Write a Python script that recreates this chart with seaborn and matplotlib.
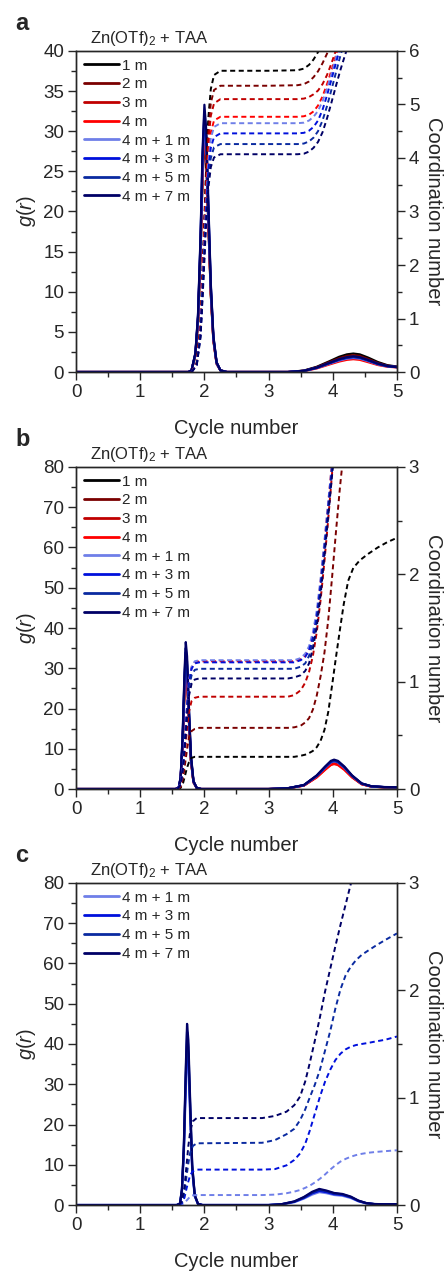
import matplotlib
matplotlib.use("Agg")
import matplotlib.pyplot as plt
import seaborn as sns

# ---------------- data ----------------
SERIES_AB = ["1 m", "2 m", "3 m", "4 m", "4 m + 1 m", "4 m + 3 m", "4 m + 5 m", "4 m + 7 m"]
SERIES_C = ["4 m + 1 m", "4 m + 3 m", "4 m + 5 m", "4 m + 7 m"]

# panel a : g(r)
A_GR_X = [0.00, 1.75, 1.80, 1.86, 1.90, 1.94, 1.97, 2.00, 2.03, 2.06, 2.10, 2.14, 2.19, 2.25, 2.35,
          3.30, 3.55, 3.75, 3.95, 4.10, 4.22, 4.32, 4.42, 4.55, 4.70, 4.85, 5.00]
A_GR_1M = [0, 0, 0.2, 2.1, 6.3, 15.0, 24.2, 29.5, 26.6, 19.0, 9.7, 4.0, 1.1, 0.2, 0,
           0, 0.18, 0.65, 1.35, 1.9, 2.2, 2.3, 2.2, 1.8, 1.25, 0.85, 0.68]
A_GR_2M = [0, 0, 0.2, 2.1, 6.2, 14.8, 23.8, 29.0, 26.1, 18.7, 9.6, 3.9, 1.0, 0.2, 0,
           0, 0.16, 0.6, 1.25, 1.72, 2.0, 2.1, 2.0, 1.62, 1.13, 0.8, 0.65]
A_GR_3M = [0, 0, 0.2, 2.2, 6.4, 15.3, 24.6, 30.0, 27.0, 19.4, 9.9, 4.1, 1.1, 0.2, 0,
           0, 0.14, 0.5, 1.03, 1.43, 1.66, 1.75, 1.66, 1.35, 0.95, 0.7, 0.6]
A_GR_4M = [0, 0, 0.2, 2.2, 6.5, 15.6, 25.0, 30.5, 27.5, 19.7, 10.1, 4.1, 1.1, 0.2, 0,
           0, 0.12, 0.45, 0.95, 1.31, 1.52, 1.6, 1.52, 1.23, 0.88, 0.66, 0.58]
A_GR_4M1 = [0, 0, 0.2, 2.2, 6.6, 15.8, 25.4, 31.0, 27.9, 20.0, 10.2, 4.2, 1.1, 0.2, 0,
            0, 0.13, 0.5, 1.04, 1.44, 1.67, 1.75, 1.67, 1.36, 0.96, 0.7, 0.6]
A_GR_4M3 = [0, 0, 0.2, 2.3, 6.8, 16.3, 26.2, 32.0, 28.8, 20.6, 10.6, 4.3, 1.2, 0.2, 0,
            0, 0.14, 0.52, 1.1, 1.52, 1.76, 1.85, 1.76, 1.43, 1.0, 0.73, 0.61]
A_GR_4M5 = [0, 0, 0.2, 2.3, 6.9, 16.6, 26.7, 32.5, 29.3, 21.0, 10.7, 4.4, 1.2, 0.2, 0,
            0, 0.15, 0.54, 1.12, 1.56, 1.8, 1.9, 1.8, 1.46, 1.02, 0.74, 0.62]
A_GR_4M7 = [0, 0, 0.2, 2.4, 7.1, 17.0, 27.3, 33.3, 30.0, 21.5, 11.0, 4.5, 1.2, 0.2, 0,
            0, 0.15, 0.55, 1.15, 1.6, 1.85, 1.95, 1.85, 1.5, 1.05, 0.75, 0.62]

# panel a : coordination number
A_CN_X = [1.80, 1.88, 1.94, 1.98, 2.02, 2.06, 2.10, 2.15, 2.25, 3.00, 3.45,
          3.55, 3.63, 3.70, 3.77, 3.84, 3.91, 3.98, 4.05, 4.12, 4.19, 4.26, 4.33]
A_CN_1M = [0, 0.17, 0.90, 2.20, 3.60, 4.73, 5.29, 5.55, 5.63, 5.63, 5.64,
           5.67, 5.74, 5.84, 5.98, 6.15, 6.35, 6.6, 6.8, 7.0, 7.2, 7.4, 7.6]
A_CN_2M = [0, 0.16, 0.86, 2.09, 3.42, 4.49, 5.03, 5.27, 5.35, 5.35, 5.36,
           5.38, 5.43, 5.51, 5.62, 5.77, 5.95, 6.15, 6.35, 6.55, 6.75, 6.95, 7.15]
A_CN_3M = [0, 0.15, 0.82, 1.99, 3.26, 4.28, 4.79, 5.02, 5.10, 5.10, 5.10,
           5.11, 5.14, 5.19, 5.26, 5.38, 5.55, 5.77, 6.02, 6.25, 6.5, 6.7, 6.9]
A_CN_4M = [0, 0.14, 0.76, 1.86, 3.05, 4.01, 4.48, 4.70, 4.77, 4.77, 4.77,
           4.78, 4.81, 4.87, 4.98, 5.15, 5.38, 5.64, 5.92, 6.2, 6.45, 6.7, 6.9]
A_CN_4M1 = [0, 0.14, 0.74, 1.81, 2.98, 3.91, 4.37, 4.58, 4.65, 4.65, 4.65,
            4.66, 4.70, 4.77, 4.88, 5.06, 5.30, 5.58, 5.88, 6.15, 6.4, 6.6, 6.8]
A_CN_4M3 = [0, 0.13, 0.71, 1.74, 2.85, 3.75, 4.19, 4.39, 4.46, 4.46, 4.46,
            4.47, 4.51, 4.58, 4.70, 4.90, 5.17, 5.47, 5.78, 6.08, 6.35, 6.6, 6.8]
A_CN_4M5 = [0, 0.13, 0.68, 1.66, 2.73, 3.58, 4.00, 4.20, 4.26, 4.26, 4.26,
            4.27, 4.31, 4.38, 4.50, 4.70, 4.97, 5.28, 5.60, 5.92, 6.2, 6.45, 6.65]
A_CN_4M7 = [0, 0.12, 0.65, 1.59, 2.60, 3.42, 3.83, 4.01, 4.07, 4.07, 4.07,
            4.08, 4.12, 4.19, 4.30, 4.48, 4.74, 5.04, 5.35, 5.65, 5.92, 6.18, 6.4]

# panel b : g(r)
B_GR_X = [0.00, 1.55, 1.60, 1.63, 1.66, 1.69, 1.71, 1.73, 1.76, 1.79, 1.83, 1.88, 1.95,
          3.00, 3.30, 3.55, 3.75, 3.88, 3.97, 4.02, 4.08, 4.18, 4.30, 4.45, 4.60, 4.80, 5.00]
B_GR_1M = [0, 0, 0.25, 2.5, 11.0, 24.6, 31.0, 28.0, 17.0, 7.2, 1.7, 0.25, 0,
           0, 0.19, 0.93, 3.17, 5.22, 6.52, 6.8, 6.52, 5.22, 3.17, 1.3, 0.65, 0.46, 0.42]
B_GR_2M = [0, 0, 0.25, 2.5, 10.7, 23.9, 30.0, 27.1, 16.4, 7.0, 1.65, 0.25, 0,
           0, 0.18, 0.89, 3.03, 4.99, 6.23, 6.5, 6.23, 4.99, 3.03, 1.25, 0.62, 0.44, 0.4]
B_GR_3M = [0, 0, 0.26, 2.6, 11.2, 25.0, 31.5, 28.5, 17.3, 7.3, 1.7, 0.26, 0,
           0, 0.17, 0.88, 2.98, 4.91, 6.14, 6.4, 6.14, 4.91, 2.98, 1.23, 0.61, 0.44, 0.4]
B_GR_4M = [0, 0, 0.26, 2.6, 11.4, 25.4, 32.0, 28.9, 17.5, 7.5, 1.75, 0.26, 0,
           0, 0.17, 0.85, 2.89, 4.76, 5.95, 6.2, 5.95, 4.76, 2.89, 1.19, 0.6, 0.42, 0.38]
B_GR_4M1 = [0, 0, 0.27, 2.7, 11.7, 26.2, 33.0, 29.8, 18.1, 7.7, 1.8, 0.27, 0,
            0, 0.19, 0.95, 3.22, 5.29, 6.62, 6.9, 6.62, 5.29, 3.22, 1.32, 0.66, 0.47, 0.43]
B_GR_4M3 = [0, 0, 0.28, 2.8, 12.1, 27.0, 34.0, 30.7, 18.6, 7.9, 1.9, 0.28, 0,
            0, 0.19, 0.96, 3.26, 5.37, 6.71, 7.0, 6.71, 5.37, 3.26, 1.34, 0.67, 0.48, 0.43]
B_GR_4M5 = [0, 0, 0.29, 2.9, 12.5, 27.8, 35.0, 31.6, 19.2, 8.2, 1.9, 0.29, 0,
            0, 0.19, 0.97, 3.31, 5.45, 6.81, 7.1, 6.81, 5.45, 3.31, 1.36, 0.68, 0.48, 0.44]
B_GR_4M7 = [0, 0, 0.3, 3.0, 13.0, 29.0, 36.5, 33.0, 20.0, 8.5, 2.0, 0.3, 0,
            0, 0.2, 1.0, 3.4, 5.6, 7.0, 7.3, 7.0, 5.6, 3.4, 1.4, 0.7, 0.5, 0.45]

# panel b : coordination number
B_CN_X = [1.58, 1.63, 1.67, 1.70, 1.73, 1.76, 1.80, 1.85, 1.92,
          3.30, 3.40, 3.50, 3.57, 3.63, 3.69, 3.75, 3.81, 3.87, 3.93, 3.99, 4.05,
          4.11, 4.17, 4.24, 4.32, 4.42, 4.55, 4.70, 4.85, 5.00]
B_CN_1M = [0, 0.01, 0.06, 0.13, 0.20, 0.25, 0.29, 0.30, 0.30,
           0.30, 0.30, 0.31, 0.32, 0.335, 0.355, 0.39, 0.45, 0.55, 0.72, 0.97, 1.23,
           1.48, 1.72, 1.94, 2.06, 2.13, 2.19, 2.25, 2.30, 2.34]
B_CN_2M = [0, 0.02, 0.11, 0.24, 0.37, 0.48, 0.54, 0.56, 0.57,
           0.57, 0.575, 0.59, 0.62, 0.66, 0.74, 0.87, 1.05, 1.27, 1.58, 1.98, 2.40,
           2.80, 3.15, 3.5, 3.8, 4.1, 4.4, 4.7, 5.0, 5.2]
B_CN_3M = [0, 0.03, 0.17, 0.36, 0.56, 0.72, 0.82, 0.85, 0.86,
           0.86, 0.875, 0.92, 0.99, 1.09, 1.24, 1.46, 1.76, 2.12, 2.52, 2.95, 3.35,
           3.7, 4.0, 4.3, 4.6, 4.9, 5.2, 5.5, 5.8, 6.0]
B_CN_4M = [0, 0.05, 0.24, 0.50, 0.77, 1.00, 1.13, 1.18, 1.19,
           1.19, 1.19, 1.21, 1.24, 1.30, 1.42, 1.62, 1.93, 2.29, 2.67, 3.05, 3.4,
           3.7, 4.0, 4.3, 4.6, 4.9, 5.2, 5.5, 5.8, 6.0]
B_CN_4M1 = [0, 0.05, 0.24, 0.50, 0.78, 1.01, 1.14, 1.19, 1.20,
            1.20, 1.20, 1.22, 1.26, 1.33, 1.46, 1.66, 1.96, 2.31, 2.68, 3.05, 3.4,
            3.7, 4.0, 4.3, 4.6, 4.9, 5.2, 5.5, 5.8, 6.0]
B_CN_4M3 = [0, 0.05, 0.24, 0.50, 0.77, 0.99, 1.12, 1.17, 1.18,
            1.18, 1.18, 1.20, 1.23, 1.29, 1.41, 1.60, 1.90, 2.25, 2.63, 3.01, 3.38,
            3.7, 4.0, 4.3, 4.6, 4.9, 5.2, 5.5, 5.8, 6.0]
B_CN_4M5 = [0, 0.04, 0.22, 0.47, 0.73, 0.94, 1.06, 1.11, 1.12,
            1.12, 1.12, 1.14, 1.17, 1.24, 1.37, 1.56, 1.86, 2.21, 2.59, 2.97, 3.34,
            3.7, 4.0, 4.3, 4.6, 4.9, 5.2, 5.5, 5.8, 6.0]
B_CN_4M7 = [0, 0.04, 0.21, 0.43, 0.67, 0.87, 0.98, 1.02, 1.03,
            1.03, 1.04, 1.06, 1.10, 1.17, 1.31, 1.51, 1.81, 2.17, 2.55, 2.93, 3.3,
            3.7, 4.0, 4.3, 4.6, 4.9, 5.2, 5.5, 5.8, 6.0]

# panel c : g(r)
C_GR_X = [0.00, 1.57, 1.62, 1.65, 1.68, 1.71, 1.73, 1.75, 1.78, 1.81, 1.85, 1.90, 1.97,
          3.00, 3.20, 3.40, 3.55, 3.68, 3.79, 3.90, 4.02, 4.15, 4.28, 4.40, 4.52, 4.65, 4.80, 5.00]
C_GR_4M1 = [0, 0, 0.3, 3.4, 12.7, 28.7, 38.0, 34.6, 21.1, 8.4, 2.1, 0.25, 0,
            0, 0.16, 0.7, 1.6, 2.6, 3.2, 2.95, 2.5, 2.3, 1.75, 0.9, 0.42, 0.2, 0.16, 0.16]
C_GR_4M3 = [0, 0, 0.35, 3.6, 13.7, 31.0, 41.0, 37.4, 22.8, 9.1, 2.3, 0.3, 0,
            0, 0.18, 0.8, 1.75, 2.9, 3.5, 3.2, 2.7, 2.5, 1.9, 1.0, 0.45, 0.22, 0.18, 0.18]
C_GR_4M5 = [0, 0, 0.4, 3.8, 14.3, 32.5, 43.0, 39.2, 23.9, 9.6, 2.4, 0.3, 0,
            0, 0.2, 0.85, 1.9, 3.1, 3.8, 3.45, 2.9, 2.65, 2.0, 1.05, 0.48, 0.24, 0.2, 0.2]
C_GR_4M7 = [0, 0, 0.4, 4.0, 15.0, 34.0, 45.0, 41.0, 25.0, 10.0, 2.5, 0.3, 0,
            0, 0.2, 0.9, 2.0, 3.3, 4.0, 3.6, 3.0, 2.75, 2.1, 1.1, 0.5, 0.25, 0.2, 0.2]

# panel c : coordination number
C_CN_X = [1.60, 1.65, 1.69, 1.72, 1.75, 1.78, 1.82, 1.88,
          2.90, 3.10, 3.28, 3.40, 3.49, 3.57, 3.64, 3.72, 3.80, 3.88, 3.96, 4.04,
          4.12, 4.20, 4.28, 4.36, 4.45, 4.55, 4.68, 4.82, 5.00]
C_CN_4M1 = [0, 0.004, 0.02, 0.04, 0.06, 0.08, 0.09, 0.093,
            0.093, 0.097, 0.11, 0.125, 0.14, 0.16, 0.18, 0.21, 0.245, 0.285, 0.33, 0.37,
            0.405, 0.43, 0.45, 0.465, 0.477, 0.487, 0.495, 0.502, 0.51]
C_CN_4M3 = [0, 0.015, 0.07, 0.15, 0.22, 0.28, 0.315, 0.33,
            0.33, 0.335, 0.37, 0.42, 0.48, 0.57, 0.69, 0.85, 1.01, 1.15, 1.26, 1.35,
            1.41, 1.45, 1.475, 1.49, 1.50, 1.51, 1.525, 1.54, 1.57]
C_CN_4M5 = [0, 0.026, 0.12, 0.26, 0.39, 0.49, 0.55, 0.575,
            0.58, 0.605, 0.66, 0.71, 0.79, 0.89, 1.00, 1.12, 1.26, 1.44, 1.62, 1.83,
            2.01, 2.14, 2.22, 2.28, 2.33, 2.37, 2.42, 2.47, 2.53]
C_CN_4M7 = [0, 0.036, 0.17, 0.36, 0.55, 0.69, 0.78, 0.81,
            0.81, 0.83, 0.87, 0.93, 1.01, 1.15, 1.32, 1.53, 1.75, 1.99, 2.20, 2.41,
            2.61, 2.80, 2.99, 3.15, 3.35, 3.55, 3.8, 4.1, 4.4]

# ---------------- style ----------------
COLORS_AB = ["#000000", "#7a0000", "#c00000", "#ff0000",
             "#6f7fe8", "#0010dc", "#0a2aa0", "#000066"]
COLORS_C = COLORS_AB[4:]

sns.set_style("ticks")
plt.rcParams["font.family"] = ["Liberation Sans", "DejaVu Sans"]
plt.rcParams["mathtext.fontset"] = "custom"
plt.rcParams["mathtext.rm"] = "Liberation Sans"
plt.rcParams["mathtext.it"] = "Liberation Sans:italic"
plt.rcParams["lines.dashed_pattern"] = [2.6, 1.8]
plt.rcParams["axes.linewidth"] = 1.0

TICK_FS = 13.5
LABEL_FS = 14.5
LEG_FS = 11
TITLE_FS = 12
GR_LW = 1.6
CN_LW = 1.4

fig = plt.figure(figsize=(4.45, 12.71), dpi=100)

panels = [
    dict(letter="a", rect=[0.1708, 0.7073, 0.7213, 0.2526],
         gx=A_GR_X, gys=[A_GR_1M, A_GR_2M, A_GR_3M, A_GR_4M, A_GR_4M1, A_GR_4M3, A_GR_4M5, A_GR_4M7],
         cx=A_CN_X, cys=[A_CN_1M, A_CN_2M, A_CN_3M, A_CN_4M, A_CN_4M1, A_CN_4M3, A_CN_4M5, A_CN_4M7],
         names=SERIES_AB, colors=COLORS_AB, ylim=(0, 40), ymaj=5, ymin=2.5, y2lim=(0, 6)),
    dict(letter="b", rect=[0.1708, 0.3792, 0.7213, 0.2534],
         gx=B_GR_X, gys=[B_GR_1M, B_GR_2M, B_GR_3M, B_GR_4M, B_GR_4M1, B_GR_4M3, B_GR_4M5, B_GR_4M7],
         cx=B_CN_X, cys=[B_CN_1M, B_CN_2M, B_CN_3M, B_CN_4M, B_CN_4M1, B_CN_4M3, B_CN_4M5, B_CN_4M7],
         names=SERIES_AB, colors=COLORS_AB, ylim=(0, 80), ymaj=10, ymin=5, y2lim=(0, 3)),
    dict(letter="c", rect=[0.1708, 0.0519, 0.7213, 0.2534],
         gx=C_GR_X, gys=[C_GR_4M1, C_GR_4M3, C_GR_4M5, C_GR_4M7],
         cx=C_CN_X, cys=[C_CN_4M1, C_CN_4M3, C_CN_4M5, C_CN_4M7],
         names=SERIES_C, colors=COLORS_C, ylim=(0, 80), ymaj=10, ymin=5, y2lim=(0, 3)),
]

for p in panels:
    ax = fig.add_axes(p["rect"])
    ax2 = ax.twinx()
    ax.set_zorder(1)
    ax2.set_zorder(2)
    ax2.patch.set_visible(False)

    handles = []
    for y, c in zip(p["gys"], p["colors"]):
        sns.lineplot(x=p["gx"], y=y, ax=ax, color=c, linewidth=GR_LW,
                     estimator=None, sort=False, legend=False)
        handles.append(ax.lines[-1])
    for y, c in zip(p["cys"], p["colors"]):
        sns.lineplot(x=p["cx"], y=y, ax=ax2, color=c, linewidth=CN_LW,
                     linestyle="--", estimator=None, sort=False, legend=False)

    ax.set_xlim(0, 5)
    ax.set_ylim(*p["ylim"])
    ax2.set_ylim(*p["y2lim"])
    ax.xaxis.set_major_locator(matplotlib.ticker.MultipleLocator(1))
    ax.xaxis.set_minor_locator(matplotlib.ticker.MultipleLocator(0.5))
    ax.yaxis.set_major_locator(matplotlib.ticker.MultipleLocator(p["ymaj"]))
    ax.yaxis.set_minor_locator(matplotlib.ticker.MultipleLocator(p["ymin"]))
    ax2.yaxis.set_major_locator(matplotlib.ticker.MultipleLocator(1))
    ax2.yaxis.set_minor_locator(matplotlib.ticker.MultipleLocator(0.5))

    for a in (ax, ax2):
        a.tick_params(which="major", direction="out", length=6, width=1.0,
                      labelsize=TICK_FS, pad=2.5)
        a.tick_params(which="minor", direction="out", length=3.5, width=1.0)
        for s in a.spines.values():
            s.set_visible(True)
            s.set_linewidth(1.0)
    ax.tick_params(which="both", top=False, right=False)
    ax2.tick_params(which="both", top=False, left=False, bottom=False)

    ax.set_xlabel("Cycle number", fontsize=LABEL_FS, labelpad=13)
    ax.set_ylabel(r"$g$($r$)", fontsize=LABEL_FS, labelpad=4)
    ax2.set_ylabel("Coordination number", fontsize=LABEL_FS, rotation=270, labelpad=17)

    ax.text(0.045, 1.01, r"Zn(OTf)$_2$ + TAA", transform=ax.transAxes,
            ha="left", va="bottom", fontsize=TITLE_FS)
    fig.text(15 / 445, ax.get_position().y1 + 0.0125, p["letter"], fontsize=17,
             fontweight="bold", ha="left", va="bottom")

    leg = ax2.legend(handles, p["names"], loc="upper left",
                     bbox_to_anchor=(0.025, 0.976), frameon=False, fontsize=LEG_FS,
                     handlelength=2.3, handletextpad=0.2, labelspacing=0.31,
                     borderaxespad=0, borderpad=0)
    for h in leg.get_lines():
        h.set_linewidth(2.0)

fig.savefig("out.png", dpi=100)
